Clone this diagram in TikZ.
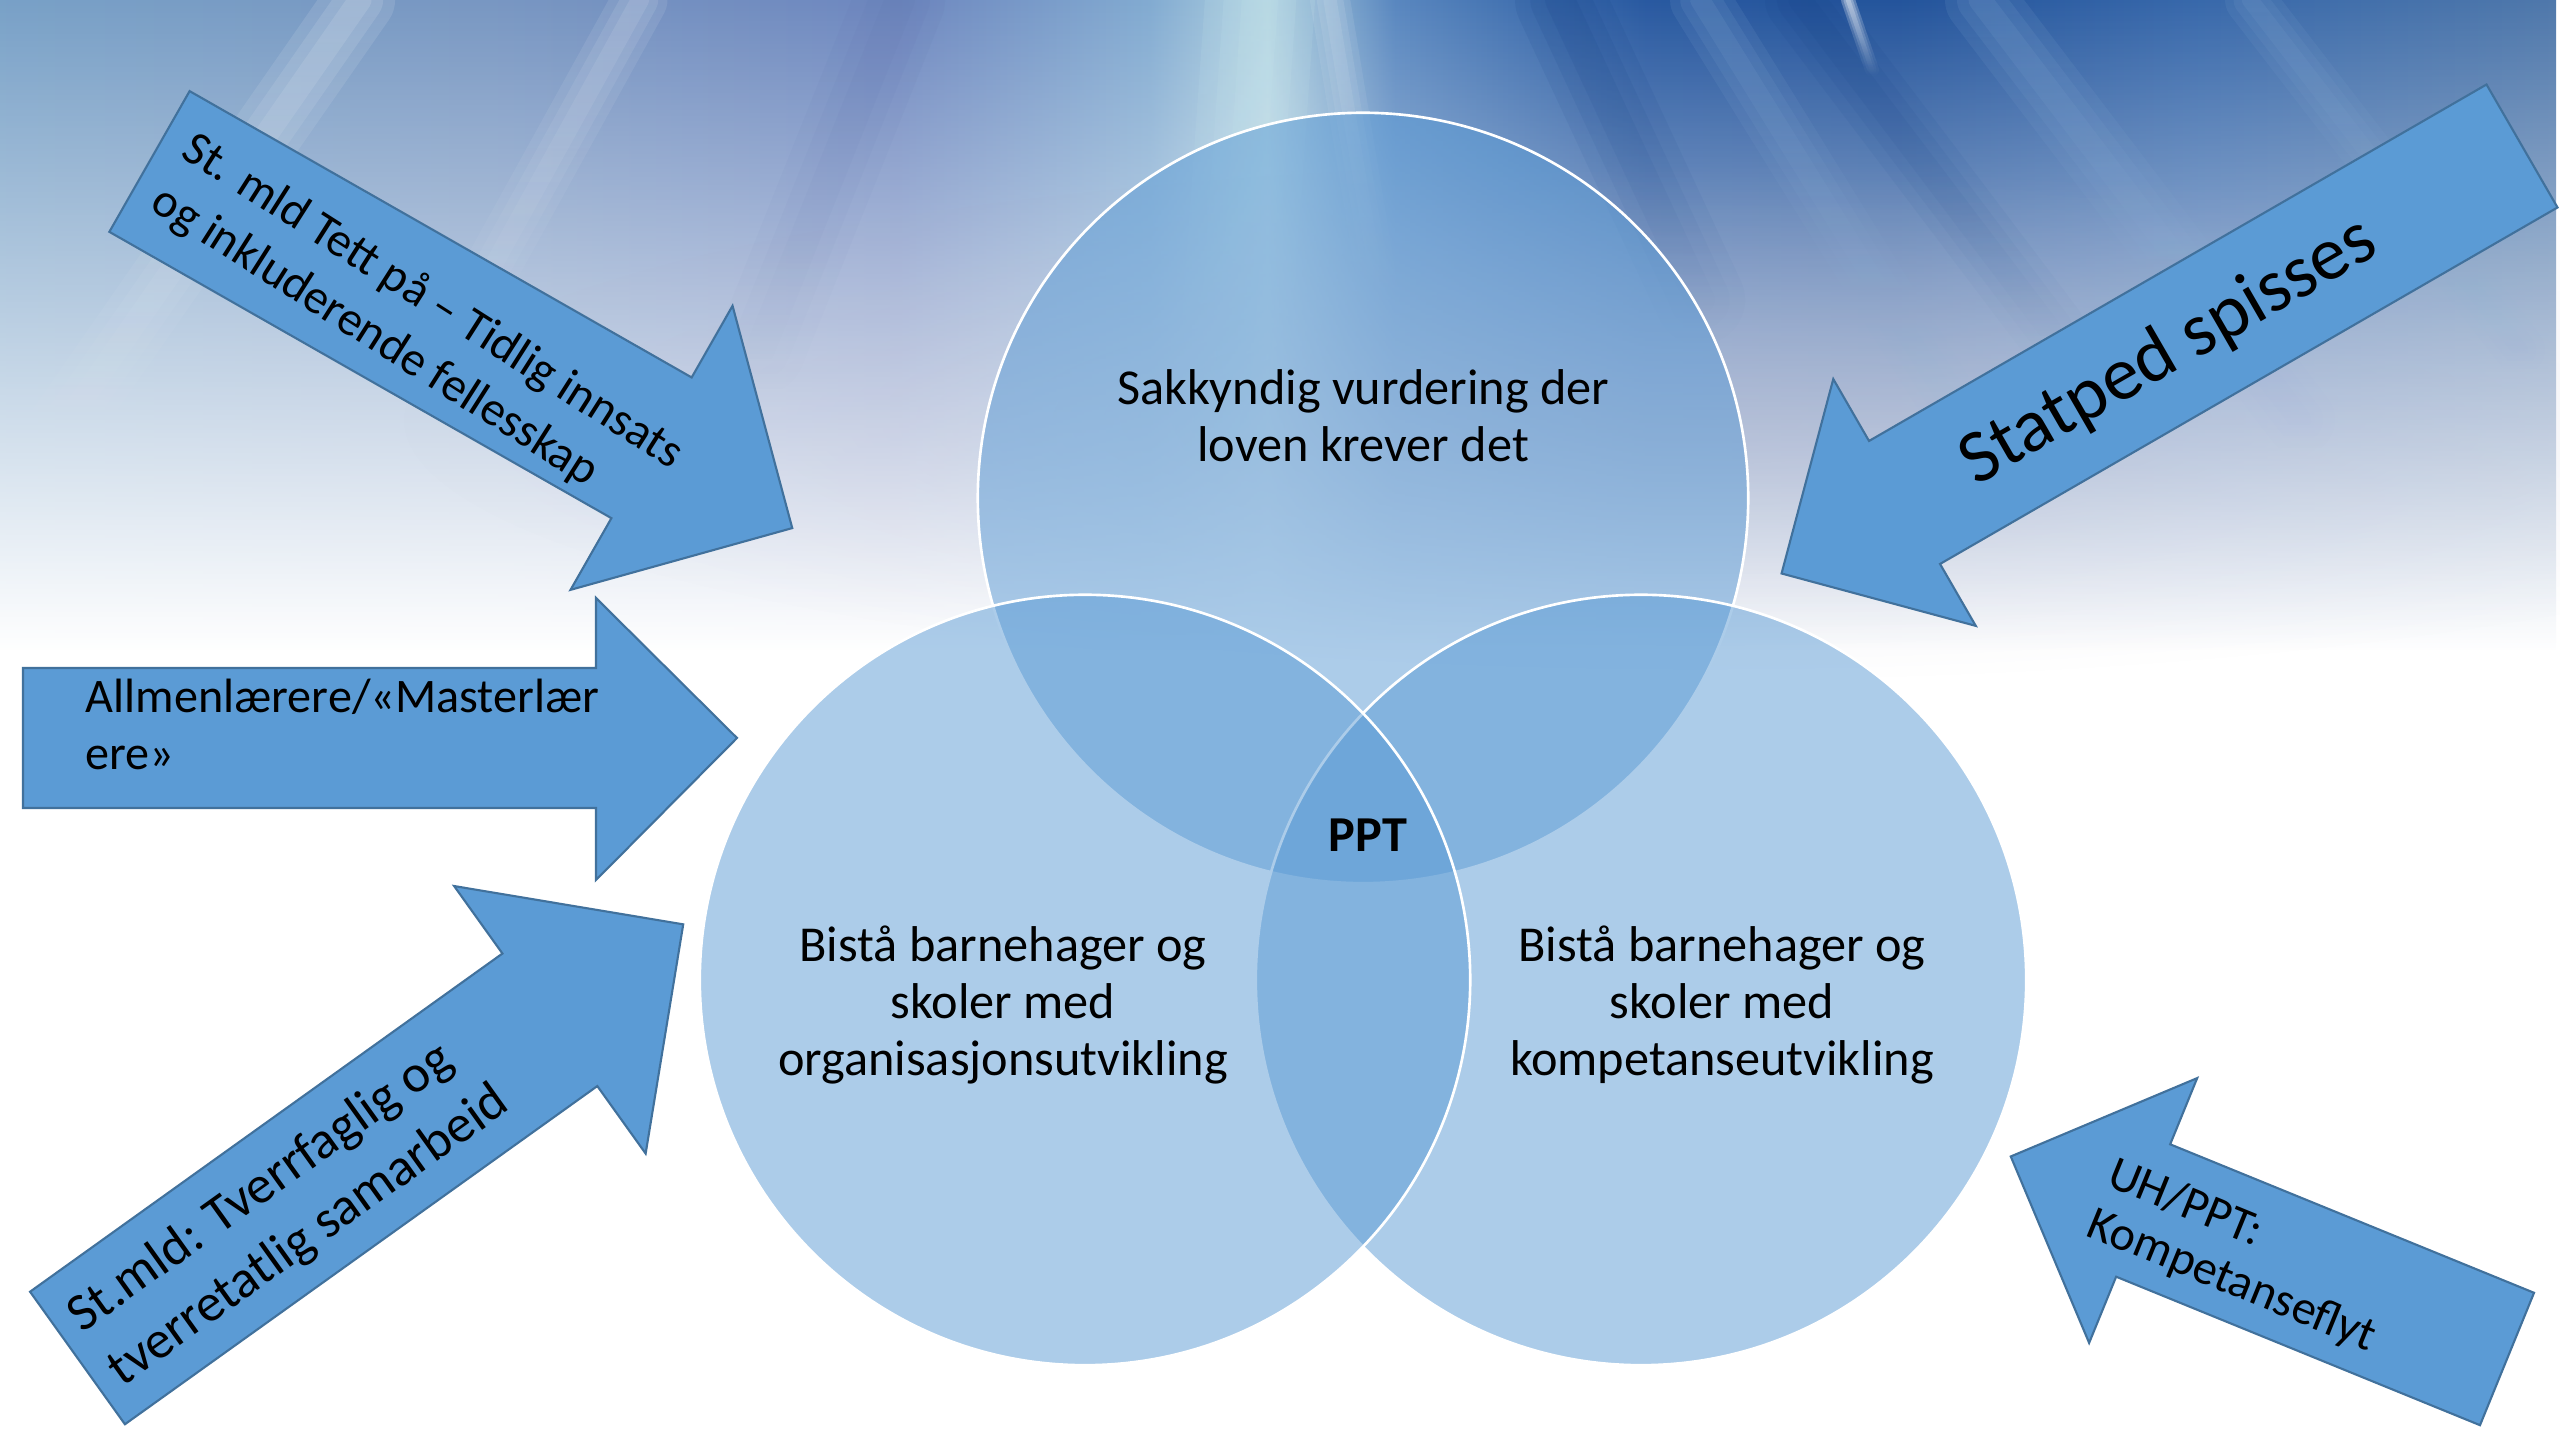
\documentclass[tikz,border=0pt]{standalone}
\usepackage{fontspec}
\setmainfont{Carlito}
\usetikzlibrary{fadings}
\definecolor{arrfill}{RGB}{91,155,213}
\definecolor{arrline}{RGB}{65,113,156}
\definecolor{venncol}{RGB}{91,155,213}
\definecolor{hazecol}{RGB}{180,178,202}
\definecolor{lightcyan}{RGB}{200,232,238}
\definecolor{streakblue}{RGB}{150,185,222}
\definecolor{deepblue}{RGB}{22,66,136}
\definecolor{lavblue}{RGB}{95,115,172}
\pgfdeclarehorizontalshading{bgband}{100bp}{%
rgb(0bp)=(0.47,0.63,0.78);
rgb(25bp)=(0.47,0.63,0.78);
rgb(34.8bp)=(0.47,0.59,0.76);
rgb(42.6bp)=(0.43,0.53,0.75);
rgb(47.5bp)=(0.51,0.67,0.82);
rgb(49.8bp)=(0.69,0.82,0.88);
rgb(52.3bp)=(0.35,0.53,0.75);
rgb(57.2bp)=(0.16,0.35,0.63);
rgb(62.1bp)=(0.14,0.33,0.61);
rgb(68bp)=(0.22,0.41,0.67);
rgb(75bp)=(0.31,0.47,0.67);
rgb(100bp)=(0.31,0.47,0.67)}
\tikzfading[name=bandfade, top color=transparent!0, bottom color=transparent!100]
\tikzfading[name=hazefade, inner color=transparent!70, outer color=transparent!100]
\newcommand\softstreak[7]{%
  \foreach \k in {1,0.66,0.33}{%
    \draw[#6, draw opacity=#7, line width={#5*0.01cm*\k}, line cap=round, path fading=south]
      (#1,1440-#2) -- (#3,1440-#4);}}
\tikzset{
  arr/.style={fill=arrfill, draw=arrline, line width=0.6pt, line join=miter},
  vennc/.style={circle, minimum size=7.7cm, inner sep=0pt, fill=venncol, fill opacity=0.5, draw=white, draw opacity=1, line width=0.75pt},
  ctext/.style={font=\fontsize{14.3}{17}\selectfont, inner sep=0pt, anchor=base, text=black},
  atext/.style={font=\fontsize{13.7}{16}\selectfont, inner sep=0pt, anchor=base west, text=black},
  btext/.style={atext, font=\fontsize{15.1}{18}\selectfont},
}
\begin{document}
\begin{tikzpicture}[x=0.01cm,y=0.01cm]
\useasboundingbox (0,0) rectangle (2560,1440);
% background
\begin{scope}
\clip (0,0) rectangle (2560,1440);
\fill[white] (0,0) rectangle (2560,1440);
\shade[shading=bgband, path fading=bandfade] (0,790) rectangle (2560,1440);
\fill[hazecol, path fading=hazefade] (1700,1020) ellipse [x radius=1300, y radius=260];
\softstreak{360}{0}{40}{460}{70}{white}{0.12}
\softstreak{640}{0}{430}{380}{55}{white}{0.1}
\softstreak{900}{0}{760}{350}{90}{lavblue}{0.1}
\softstreak{1260}{0}{1230}{420}{110}{lightcyan}{0.16}
\softstreak{1330}{0}{1380}{300}{40}{white}{0.1}
\softstreak{1560}{0}{1700}{300}{90}{deepblue}{0.14}
\softstreak{1700}{0}{1960}{420}{60}{streakblue}{0.12}
\softstreak{1800}{0}{2050}{330}{70}{deepblue}{0.12}
\softstreak{1980}{0}{2300}{420}{70}{streakblue}{0.12}
\softstreak{2250}{0}{2520}{350}{50}{streakblue}{0.1}
\softstreak{1848}{0}{1872}{70}{14}{white}{0.3}
\end{scope}
% Venn circles
\node[vennc] (T) at (1363,942) {};
\node[vennc] (R) at (1641,460) {};
\node[vennc] (L) at (1085,460) {};
% circle texts
\node[ctext] (t1) at (1363,1035) {Sakkyndig vurdering der};
\node[ctext] (t2) at (1363,978) {loven krever det};
\node[ctext] (l1) at (1003,478) {Bistå barnehager og};
\node[ctext] (l2) at (1003,421) {skoler med};
\node[ctext] (l3) at (1003,364) {organisasjonsutvikling};
\node[ctext] (r1) at (1722,478) {Bistå barnehager og};
\node[ctext] (r2) at (1722,421) {skoler med};
\node[ctext] (r3) at (1722,364) {kompetanseutvikling};
\node[ctext, font=\fontsize{14.3}{17}\selectfont\bfseries] (ppt) at (1368,588) {PPT};
% Arrow 1 (top left)
\begin{scope}[shift={(149.5,1278.5)}, rotate=-29.7]
\path[arr] (0,81) -- (578,81) -- (578,163.5) -- (740,0) -- (578,-163.5) -- (578,-81) -- (0,-81) -- cycle;
\node[atext, rotate=-32.5] (a1a) at (23,19.5) {St. mld Tett på – Tidlig innsats};
\node[atext, rotate=-32.5] (a1b) at (22,-41) {og inkluderende fellesskap};
\end{scope}
% Arrow 2 (top right)
\begin{scope}[shift={(2522,1294)}, rotate=210]
\path[arr] (0,71) -- (713,71) -- (713,142.5) -- (855,0) -- (713,-142.5) -- (713,-71) -- (0,-71) -- cycle;
\node[atext, font=\fontsize{21.5}{25}\selectfont, rotate=30] (a2) at (643,22) {Statped spisses};
\end{scope}
% Arrow 3 (left)
\path[arr] (23,772) -- (596,772) -- (596,842) -- (737,702) -- (596,560) -- (596,632) -- (23,632) -- cycle;
\node[atext] (a3a) at (85,727) {Allmenlærere/«Masterlær};
\node[atext] (a3b) at (85,670) {ere»};
% Arrow 4 (bottom left)
\begin{scope}[shift={(77.5,82)}, rotate=35.6]
\path[arr] (0,81.5) -- (581,81.5) -- (581,164.5) -- (745,0) -- (581,-164.5) -- (581,-81.5) -- (0,-81.5) -- cycle;
\node[btext, rotate=35.6] (a4a) at (18,17) {St.mld: Tverrfaglig og};
\node[btext, rotate=35.6] (a4b) at (19,-50) {tverretatlig samarbeid};
\end{scope}
% Arrow 5 (bottom right)
\begin{scope}[shift={(2507,81)}, rotate=157.8]
\path[arr] (0,71.5) -- (393,71.5) -- (393,143) -- (536,0) -- (393,-143) -- (393,-71.5) -- (0,-71.5) -- cycle;
\node[atext, rotate=-22.2] (a5a) at (438.6,-9) {UH/PPT:};
\node[atext, rotate=-22.2] (a5b) at (438.6,45) {Kompetanseflyt};
\end{scope}
\end{tikzpicture}
\end{document}
